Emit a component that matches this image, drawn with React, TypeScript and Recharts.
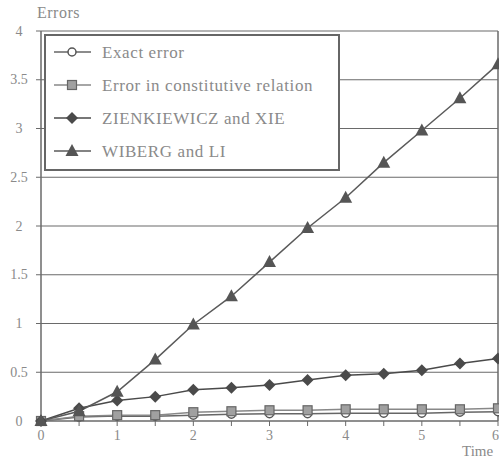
import React from 'react';
import { LineChart, Line, XAxis, YAxis, CartesianGrid, ReferenceLine } from 'recharts';

const times = [0, 0.5, 1, 1.5, 2, 2.5, 3, 3.5, 4, 4.5, 5, 5.5, 6];
const exactError = [0, 0.04, 0.05, 0.05, 0.06, 0.07, 0.075, 0.075, 0.08, 0.08, 0.08, 0.09, 0.095];
const constitutiveError = [0, 0.05, 0.06, 0.06, 0.09, 0.1, 0.11, 0.11, 0.12, 0.12, 0.12, 0.12, 0.13];
const zienkiewiczXie = [0, 0.13, 0.21, 0.25, 0.32, 0.34, 0.37, 0.42, 0.47, 0.485, 0.52, 0.59, 0.64];
const wibergLi = [0, 0.1, 0.3, 0.63, 0.99, 1.28, 1.63, 1.98, 2.29, 2.65, 2.98, 3.31, 3.66];

const seriesNames = ['Exact error', 'Error in constitutive relation', 'ZIENKIEWICZ and XIE', 'WIBERG and LI'];
const xTicks = [0, 0.5, 1, 1.5, 2, 2.5, 3, 3.5, 4, 4.5, 5, 5.5, 6];
const yTicks = [0, 0.5, 1, 1.5, 2, 2.5, 3, 3.5, 4];

const data = times.map((t, i) => ({
  t,
  exact: exactError[i],
  constit: constitutiveError[i],
  zx: zienkiewiczXie[i],
  wl: wibergLi[i],
}));

const FONT = '"Liberation Serif", "DejaVu Serif", serif';
const TEXT = '#8a8a8a';

type Shape = 'circle' | 'square' | 'diamond' | 'triangle';
const shapes: Shape[] = ['circle', 'square', 'diamond', 'triangle'];
const lineColors = ['#666', '#888', '#4a4a4a', '#5a5a5a'];

function Marker({ shape, cx, cy }: { shape: Shape; cx: number; cy: number }) {
  if (shape === 'circle') return <circle cx={cx} cy={cy} r={4} fill="#fff" stroke="#555" strokeWidth={1.5} />;
  if (shape === 'square')
    return <rect x={cx - 4.5} y={cy - 4.5} width={9} height={9} fill="#a0a0a0" stroke="#666" strokeWidth={1.2} />;
  if (shape === 'diamond')
    return <polygon points={`${cx},${cy - 6} ${cx + 6},${cy} ${cx},${cy + 6} ${cx - 6},${cy}`} fill="#4a4a4a" />;
  return <polygon points={`${cx},${cy - 7} ${cx + 6.5},${cy + 5} ${cx - 6.5},${cy + 5}`} fill="#555" />;
}

const makeDot = (shape: Shape) => (props: any) => {
  const { cx, cy, index } = props;
  if (cx == null || cy == null) return <g key={index} />;
  return <Marker key={index} shape={shape} cx={cx} cy={cy} />;
};

function LegendBox() {
  return (
    <svg width={296} height={137} style={{ display: 'block' }}>
      <rect x={1} y={1} width={294} height={135} fill="#fff" stroke="#666" strokeWidth={2} />
      {seriesNames.map((name, i) => {
        const y = 18 + i * 33;
        return (
          <g key={name}>
            <line x1={10} x2={47} y1={y} y2={y} stroke={lineColors[i]} strokeWidth={1.5} />
            <Marker shape={shapes[i]} cx={28} cy={y} />
            <text x={58} y={y} dominantBaseline="central" fill={TEXT} fontFamily={FONT} fontSize={17} letterSpacing={0.6}>
              {name}
            </text>
          </g>
        );
      })}
    </svg>
  );
}

const YTick = (props: any) => {
  const { x, y, payload } = props;
  return (
    <text x={x - 15} y={y} textAnchor="middle" dominantBaseline="central" fill={TEXT} fontFamily={FONT} fontSize={14}>
      {String(payload.value)}
    </text>
  );
};

const XTick = (props: any) => {
  const { x, y, payload } = props;
  if (!Number.isInteger(payload.value)) return <g />;
  const last = payload.value === 6;
  return (
    <text x={last ? x + 1 : x} y={y + 12} textAnchor={last ? 'end' : 'middle'} fill={TEXT} fontFamily={FONT} fontSize={14}>
      {String(payload.value)}
    </text>
  );
};

export default function App() {
  return (
    <div style={{ position: 'absolute', left: 0, top: 0, width: 499, height: 464, background: '#fff' }}>
      <LineChart width={499} height={464} data={data} margin={{ top: 31, right: 1, bottom: 0, left: 0 }}>
        <CartesianGrid vertical={false} stroke="#6a6a6a" strokeWidth={1.2} />
        <XAxis
          dataKey="t"
          type="number"
          domain={[0, 6]}
          ticks={xTicks}
          interval={0}
          tick={<XTick />}
          tickSize={5}
          height={43}
          axisLine={{ stroke: '#6a6a6a' }}
          tickLine={{ stroke: '#6a6a6a' }}
        />
        <YAxis
          type="number"
          domain={[0, 4]}
          ticks={yTicks}
          interval={0}
          width={41}
          tick={<YTick />}
          tickSize={5}
          axisLine={{ stroke: '#6a6a6a', strokeWidth: 1.5 }}
          tickLine={{ stroke: '#6a6a6a' }}
        />
        <ReferenceLine x={6} stroke="#6a6a6a" strokeWidth={1.5} />
        <Line dataKey="exact" name={seriesNames[0]} stroke={lineColors[0]} strokeWidth={1.5} dot={makeDot('circle')} isAnimationActive={false} />
        <Line dataKey="constit" name={seriesNames[1]} stroke={lineColors[1]} strokeWidth={1.5} dot={makeDot('square')} isAnimationActive={false} />
        <Line dataKey="zx" name={seriesNames[2]} stroke={lineColors[2]} strokeWidth={1.5} dot={makeDot('diamond')} isAnimationActive={false} />
        <Line dataKey="wl" name={seriesNames[3]} stroke={lineColors[3]} strokeWidth={1.5} dot={makeDot('triangle')} isAnimationActive={false} />
      </LineChart>
      <div style={{ position: 'absolute', left: 44, top: 34 }}>
        <LegendBox />
      </div>
      <div style={{ position: 'absolute', left: 37, top: 4, fontFamily: FONT, fontSize: 16, letterSpacing: 0.5, color: TEXT }}>Errors</div>
      <div style={{ position: 'absolute', left: 462, top: 443, fontFamily: FONT, fontSize: 15, color: TEXT }}>Time</div>
    </div>
  );
}
